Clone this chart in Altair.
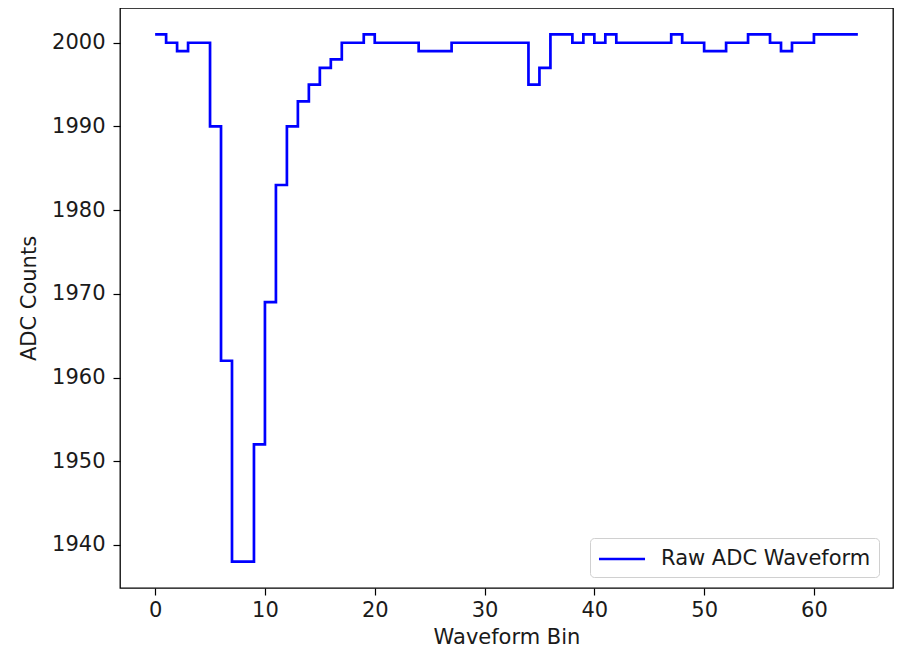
import altair as alt
import pandas as pd

bins = list(range(65))
adc = [2001, 2000, 1999, 2000, 2000, 1990, 1962, 1938, 1938, 1952,
       1969, 1983, 1990, 1993, 1995, 1997, 1998, 2000, 2000, 2001,
       2000, 2000, 2000, 2000, 1999, 1999, 1999, 2000, 2000, 2000,
       2000, 2000, 2000, 2000, 1995, 1997, 2001, 2001, 2000, 2001,
       2000, 2001, 2000, 2000, 2000, 2000, 2000, 2001, 2000, 2000,
       1999, 1999, 2000, 2000, 2001, 2001, 2000, 1999, 2000, 2000,
       2001, 2001, 2001, 2001, 2001]
series_name = "Raw ADC Waveform"
x_ticks = [0, 10, 20, 30, 40, 50, 60]
y_ticks = [1940, 1950, 1960, 1970, 1980, 1990, 2000]

df = pd.DataFrame({"bin": bins, "adc": adc, "series": [series_name] * len(bins)})

font = "DejaVu Sans"
fs = 21

chart = alt.Chart(df).mark_line(interpolate="step-after", strokeWidth=2.7).encode(
    x=alt.X("bin:Q",
            scale=alt.Scale(domain=[-3.2, 67.2], nice=False, zero=False),
            axis=alt.Axis(values=x_ticks, title="Waveform Bin", format="d")),
    y=alt.Y("adc:Q",
            scale=alt.Scale(domain=[1934.85, 2004.15], nice=False, zero=False),
            axis=alt.Axis(values=y_ticks, title="ADC Counts", format="d",
                          labelPadding=8)),
    color=alt.Color("series:N",
                    scale=alt.Scale(domain=[series_name], range=["#0000ff"]),
                    legend=alt.Legend(title=None, orient="none",
                                      legendX=470, legendY=530,
                                      symbolType="M-2,0H2", symbolSize=530,
                                      symbolStrokeWidth=2.7, symbolOffset=11,
                                      labelFontSize=fs, labelFont=font,
                                      labelColor="#1a1a1a", labelOffset=26,
                                      labelLimit=0,
                                      strokeColor="#d0d0d0", cornerRadius=4,
                                      fillColor="white",
                                      padding=8)),
).properties(
    width=773, height=580,
    autosize=alt.AutoSizeParams(type="none"),
    padding={"left": 112, "top": 0, "right": 2, "bottom": 60},
).configure_view(
    stroke="black", strokeWidth=1.3
).configure_axis(
    grid=False, domain=False,
    tickColor="black", tickSize=7, tickWidth=1.2,
    labelFont=font, labelFontSize=fs, labelColor="#1a1a1a", labelPadding=4,
    titleFont=font, titleFontSize=fs, titleColor="#1a1a1a", titleFontWeight="normal",
).configure_axisY(
    titlePadding=12
).configure_axisX(
    titlePadding=6
)

chart.save("out.html", embed_options={"renderer": "svg", "actions": False})
